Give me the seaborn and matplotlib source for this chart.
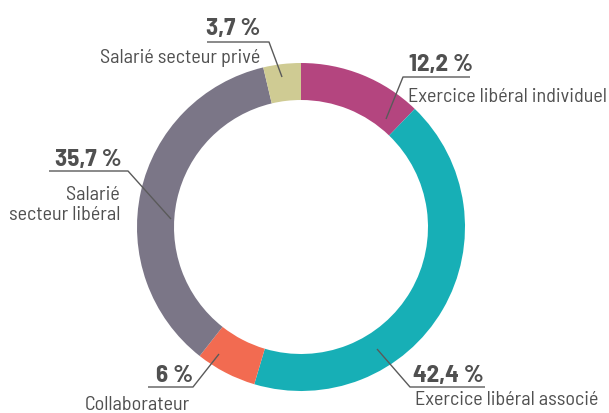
import matplotlib
matplotlib.use("Agg")
import matplotlib.pyplot as plt
import seaborn as sns

# Données (ordre horaire depuis le haut)
categories = ["Exercice libéral individuel", "Exercice libéral associé", "Collaborateur",
              "Salarié\nsecteur libéral", "Salarié secteur privé"]
parts = [12.2, 42.4, 6.0, 35.7, 3.7]
pct_labels = ["12,2 %", "42,4 %", "6 %", "35,7 %", "3,7 %"]
couleurs = ["#B4457F", "#17AFB6", "#F26B51", "#7B7687", "#CFCB93"]

sns.set_style("white")
plt.rcParams["font.family"] = ["Barlow Semi Condensed", "Roboto Condensed", "DejaVu Sans"]

gris_txt = "#505050"
gris_ligne = "#5a5a5a"

fig = plt.figure(figsize=(6.09, 4.14), dpi=100)
ax = fig.add_axes([0, 0, 1, 1])

# anneau (coordonnées en pixels, y vers le bas)
ax.pie(parts, colors=couleurs, startangle=-90, counterclock=True,
       center=(301, 228), radius=164,
       wedgeprops=dict(width=37, linewidth=0))
ax.set_xlim(0, 609)
ax.set_ylim(414, 0)
ax.set_aspect("equal")
ax.axis("off")

# étiquettes : ligne de rappel, position du %, position de la catégorie
etiquettes = [
    dict(line=[(386, 120), (403, 78), (470, 78)], pct=(409, 71), cat=(408, 102), ha="left"),
    dict(line=[(377, 350), (410, 388), (485, 388)], pct=(413, 382), cat=(415, 405), ha="left"),
    dict(line=[(219, 355), (193, 388), (148, 388)], pct=(193, 382), cat=(190, 410), ha="right"),
    dict(line=[(171, 220), (128, 172), (49, 172)], pct=(122, 166), cat=(120, 220), ha="right"),
    dict(line=[(282, 78), (269, 43), (207, 43)], pct=(260, 35), cat=(260, 63), ha="right"),
]

for et, pct, cat in zip(etiquettes, pct_labels, categories):
    xs = [p[0] for p in et["line"]]
    ys = [p[1] for p in et["line"]]
    ax.plot(xs, ys, color=gris_ligne, lw=1.0, solid_capstyle="butt")
    ax.text(et["pct"][0], et["pct"][1], pct, ha=et["ha"], va="baseline",
            fontsize=18, fontweight="bold", color=gris_txt)
    ax.text(et["cat"][0], et["cat"][1], cat, ha=et["ha"], va="baseline",
            fontsize=14.5, color=gris_txt, linespacing=1.15, multialignment=et["ha"])

fig.savefig("out.png", dpi=100)
